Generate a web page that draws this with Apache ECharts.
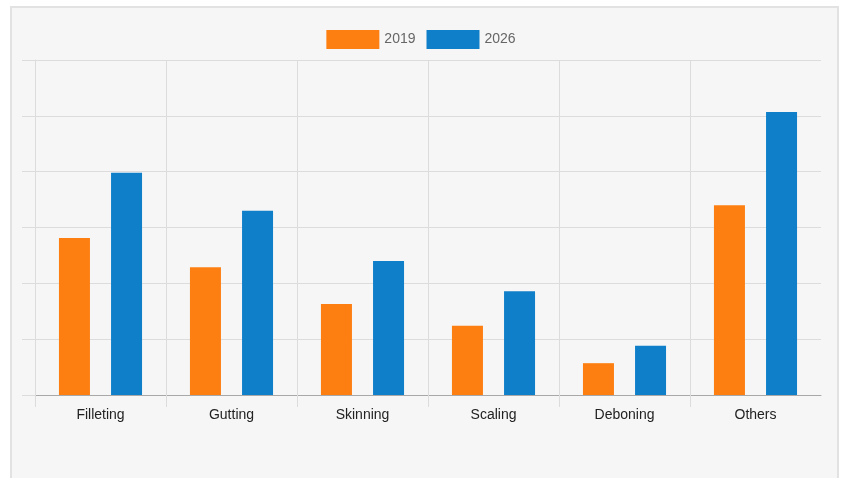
<!DOCTYPE html>
<html>
<head>
<meta charset="utf-8">
<script src="https://cdn.jsdelivr.net/npm/echarts@6/dist/echarts.min.js"></script>
<style>
  html, body { margin: 0; padding: 0; background: #fff; }
  #box {
    position: absolute; left: 10px; top: 6px; width: 825px; height: 480px;
    border: 2px solid #e2e2e2; background: #f6f6f6;
  }
  #main { position: absolute; left: 0; top: 0; width: 842px; height: 478px; }
</style>
</head>
<body>
<div id="box"></div>
<div id="main"></div>
<script>
// categories and values (market share)
var categories = ['Filleting', 'Gutting', 'Skinning', 'Scaling', 'Deboning', 'Others'];
var values2019 = [28.1, 22.9, 16.3, 12.4, 5.7, 34.0];
var values2026 = [39.8, 33.0, 24.0, 18.6, 8.8, 50.7];
// boundaries between categories, used for the small ticks under the axis
var tickBounds = [0, 1, 2, 3, 4, 5];

var myChart = echarts.init(document.getElementById('main'));
myChart.setOption({
    animation: false,
    textStyle: { fontFamily: 'Arial, "Liberation Sans", sans-serif' },
    color: ['#fd7f12', '#0f7fc9'],
    legend: {
        top: 25,
        left: 'center',
        icon: 'rect',
        itemWidth: 53,
        itemHeight: 19,
        itemGap: 11,
        textStyle: { color: '#666', fontSize: 14 },
        data: ['2019', '2026']
    },
    grid: { left: 35, right: 21, top: 60, bottom: 83 },
    xAxis: [
        {
            type: 'category',
            data: categories,
            axisLine: { lineStyle: { color: '#a8a8a8' } },
            axisTick: { show: false },
            splitLine: { show: true, showMaxLine: false, lineStyle: { color: '#dcdcdc' } },
            axisLabel: { color: '#222', fontSize: 14, margin: 13 }
        },
        {
            type: 'value',
            position: 'bottom',
            min: 0,
            max: 6,
            interval: 1,
            axisLine: { show: false },
            axisTick: { show: true, length: 12, customValues: tickBounds, lineStyle: { color: '#dcdcdc' } },
            axisLabel: { show: false },
            splitLine: { show: false }
        }
    ],
    yAxis: {
        type: 'value',
        min: 0,
        max: 60,
        interval: 10,
        axisLine: { show: true, lineStyle: { color: '#dcdcdc' } },
        axisTick: { show: true, length: 13, lineStyle: { color: '#dcdcdc' } },
        axisLabel: { show: false },
        splitLine: { show: true, lineStyle: { color: '#dcdcdc' } }
    },
    series: [
        {
            name: '2019',
            type: 'bar',
            data: values2019,
            barWidth: 31,
            barGap: '68%'
        },
        {
            name: '2026',
            type: 'bar',
            data: values2026,
            barWidth: 31,
            barGap: '68%'
        }
    ]
});
</script>
</body>
</html>
